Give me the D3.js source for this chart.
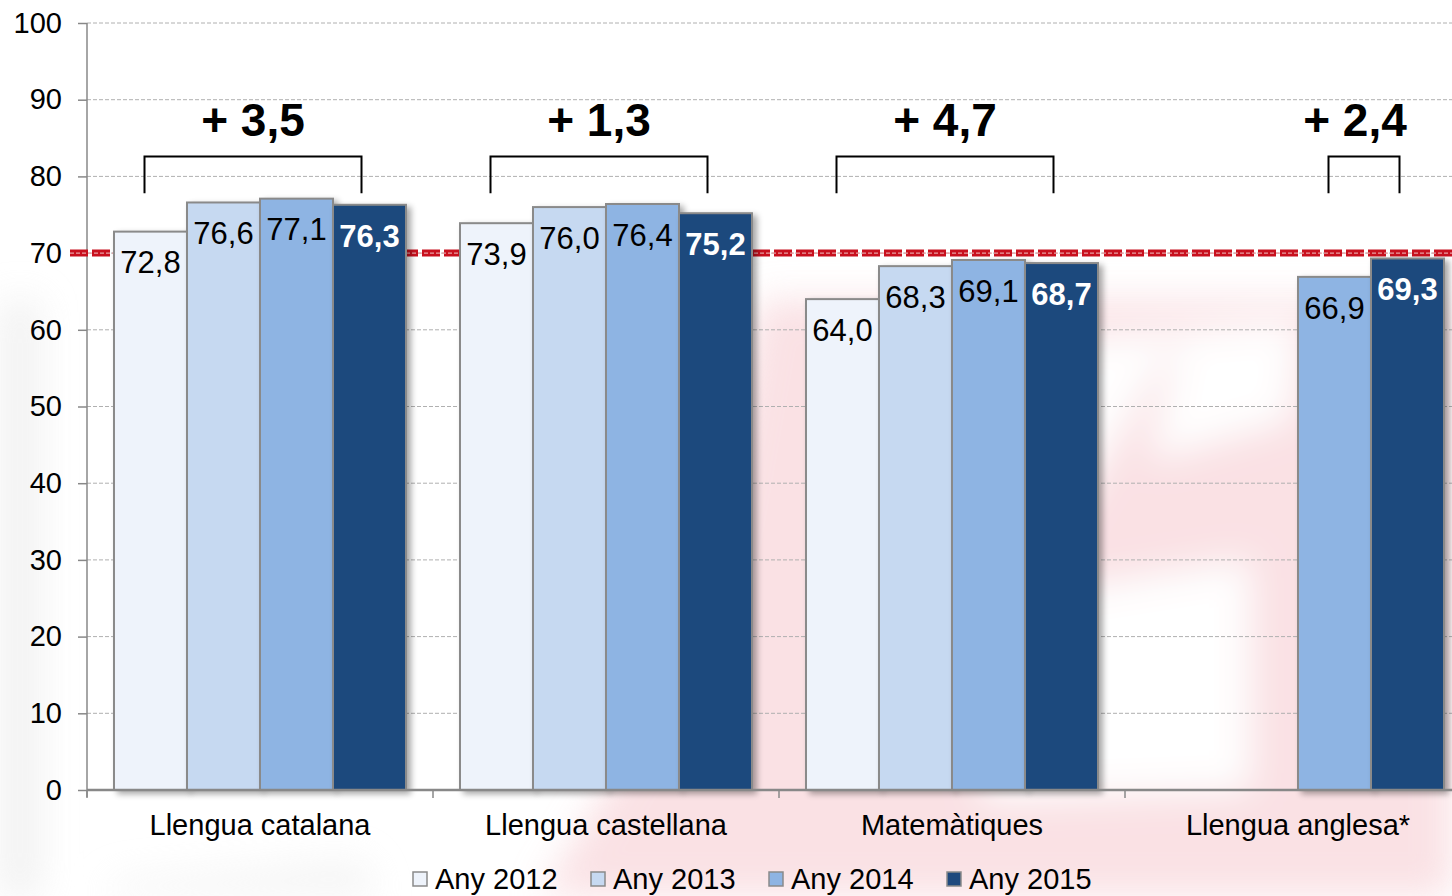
<!DOCTYPE html>
<html><head><meta charset="utf-8">
<script src="https://cdn.jsdelivr.net/npm/d3@7"></script>
<style>
html,body{margin:0;padding:0;background:#fff;overflow:hidden;}
svg{display:block;font-family:Arial,"Liberation Sans",sans-serif;}
</style></head>
<body>
<svg id="c" width="1452" height="896"></svg>
<script>
const categories = ["Llengua catalana","Llengua castellana","Matemàtiques","Llengua anglesa*"];
const seriesNames = ["Any 2012","Any 2013","Any 2014","Any 2015"];
const v2012 = [72.8, 73.9, 64.0, null];
const v2013 = [76.6, 76.0, 68.3, null];
const v2014 = [77.1, 76.4, 69.1, 66.9];
const v2015 = [76.3, 75.2, 68.7, 69.3];
const diffs = ["+ 3,5","+ 1,3","+ 4,7","+ 2,4"];
const yTicks = [0,10,20,30,40,50,60,70,80,90,100];
const refValue = 70;
const colors = ["#EEF3FB","#C6D9F1","#8EB4E3","#1F497D"];

(function(){
const series = [v2012,v2013,v2014,v2015];
const fmt = v => v.toFixed(1).replace(".", ",");

const svg = d3.select("#c");
const W = 1452, H = 896;
const left = 87, bandW = 346, topY = 23, bottom = 790;

const defs = svg.append("defs");
const blur = defs.append("filter").attr("id","blur").attr("x","-50%").attr("y","-50%").attr("width","200%").attr("height","200%");
blur.append("feGaussianBlur").attr("stdDeviation",18);
const sh = defs.append("filter").attr("id","shadow").attr("x","-20%").attr("y","-5%").attr("width","140%").attr("height","110%");
sh.append("feGaussianBlur").attr("in","SourceAlpha").attr("stdDeviation",3);
sh.append("feOffset").attr("dx",4).attr("dy",3).attr("result","ob");
sh.append("feComponentTransfer").append("feFuncA").attr("type","linear").attr("slope",0.35);
const m = sh.append("feMerge"); m.append("feMergeNode"); m.append("feMergeNode").attr("in","SourceGraphic");

const wm = svg.append("g").attr("filter","url(#blur)").attr("opacity",0.55);
wm.append("path").attr("d","M760 300 L1452 300 L1452 896 L540 896 L700 640 Z").attr("fill","#f6c9cf");
wm.append("path").attr("d","M860 360 L1180 330 L1010 620 L840 640 Z").attr("fill","#ffffff");
wm.append("path").attr("d","M1000 600 L1250 560 L1250 790 L980 800 Z").attr("fill","#ffffff");
wm.append("path").attr("d","M1180 330 L1300 320 L1290 420 L1150 460 Z").attr("fill","#ffffff");
wm.append("path").attr("d","M0 300 L40 300 L40 896 L0 896 Z").attr("fill","#e6e6e6");
wm.append("path").attr("d","M120 880 L360 860 L380 896 L100 896 Z").attr("fill","#ececec");

const x = d3.scaleBand().domain(categories).range([left, left + bandW*categories.length]).paddingInner(0).paddingOuter(0);
const xi = d3.scaleBand().domain(d3.range(4)).range([27, 27 + 73*4]);
const y = d3.scaleLinear().domain([0,100]).range([bottom, topY]);

svg.append("g").selectAll("line").data(yTicks.filter(t=>t>0)).join("line")
  .attr("x1", left).attr("x2", W).attr("y1", d=>y(d)).attr("y2", d=>y(d))
  .attr("stroke","#b0b0b0").attr("stroke-width",1).attr("stroke-dasharray","4,2");

const yAxis = d3.axisLeft(y).tickValues(yTicks).tickSize(9).tickPadding(16).tickFormat(d=>d);
const ga = svg.append("g").attr("transform",`translate(${left},0)`).call(yAxis);
ga.select(".domain").attr("stroke","#888").attr("stroke-width",1.5).attr("d",`M-0,${topY}V${bottom+7}`);
ga.selectAll(".tick line").attr("stroke","#888").attr("stroke-width",1.5);
ga.selectAll(".tick text").attr("font-size",29).attr("fill","#000").attr("font-family","Arial, 'Liberation Sans', sans-serif");

// reference line (behind bars)
const ry = y(refValue);
svg.append("line").attr("x1",70).attr("x2",W).attr("y1",ry).attr("y2",ry)
  .attr("stroke","#c8101e").attr("stroke-width",7).attr("stroke-dasharray","18,4");
svg.append("line").attr("x1",70).attr("x2",W).attr("y1",ry).attr("y2",ry)
  .attr("stroke","#e8a0a4").attr("stroke-width",1.2).attr("stroke-dasharray","4,2");

const barG = svg.append("g");
categories.forEach((c,ci)=>{
  series.forEach((s,si)=>{
    const v = s[ci];
    if (v==null) return;
    barG.append("rect")
      .attr("x", x(c)+xi(si)).attr("width", xi.bandwidth())
      .attr("y", y(v)).attr("height", y(0)-y(v))
      .attr("fill", colors[si]).attr("stroke","#8a8a8a").attr("stroke-width",2)
      .attr("filter","url(#shadow)");
  });
});

const xAxis = d3.axisBottom(x).tickSize(0).tickPadding(24);
const gx = svg.append("g").attr("transform",`translate(0,${bottom})`).call(xAxis);
gx.select(".domain").attr("stroke","#888").attr("stroke-width",2.5).attr("d",`M${left},0H${W}`);
gx.selectAll(".tick text").attr("font-size",29).attr("fill","#000").attr("font-family","Arial, 'Liberation Sans', sans-serif");
svg.append("g").selectAll("line").data(categories).join("line")
  .attr("x1",d=>x(d)).attr("x2",d=>x(d)).attr("y1",bottom).attr("y2",bottom+8)
  .attr("stroke","#888").attr("stroke-width",1.5);

const lab = svg.append("g");
categories.forEach((c,ci)=>{
  series.forEach((s,si)=>{
    const v = s[ci];
    if (v==null) return;
    lab.append("text")
      .attr("x", x(c)+xi(si)+xi.bandwidth()/2)
      .attr("y", y(v)+31).attr("dy","0.35em")
      .attr("text-anchor","middle")
      .attr("font-size",31)
      .attr("font-weight", si===3 ? "bold" : "normal")
      .attr("fill", si===3 ? "#fff" : "#000")
      .text(fmt(v));
  });
});

const br = svg.append("g");
categories.forEach((c,ci)=>{
  const avail = series.map((s,i)=>s[ci]!=null?i:-1).filter(i=>i>=0);
  const first = avail[0], last = avail[avail.length-1];
  const x1 = x(c)+xi(first)+xi.bandwidth()/2 - 6;
  const x2 = x(c)+xi(last)+xi.bandwidth()/2 - 8;
  const yt = y(82.6), yb = y(77.8);
  br.append("path").attr("d",`M${x1},${yb}V${yt}H${x2}V${yb}`)
    .attr("fill","none").attr("stroke","#000").attr("stroke-width",2);
  br.append("text").attr("x",Math.min((x1+x2)/2, W-97)).attr("y",y(85.3))
    .attr("text-anchor","middle").attr("font-size",46).attr("font-weight","bold").attr("fill","#000")
    .text(diffs[ci]);
});

const legX = [413, 591, 769, 947];
const lg = svg.append("g");
seriesNames.forEach((n,i)=>{
  lg.append("rect").attr("x",legX[i]).attr("y",872).attr("width",14).attr("height",14)
    .attr("fill",colors[i]).attr("stroke","#8a8a8a").attr("stroke-width",1.5);
  lg.append("text").attr("x",legX[i]+22).attr("y",889).attr("font-size",29).attr("fill","#000").text(n);
});
})();
</script>
</body></html>
